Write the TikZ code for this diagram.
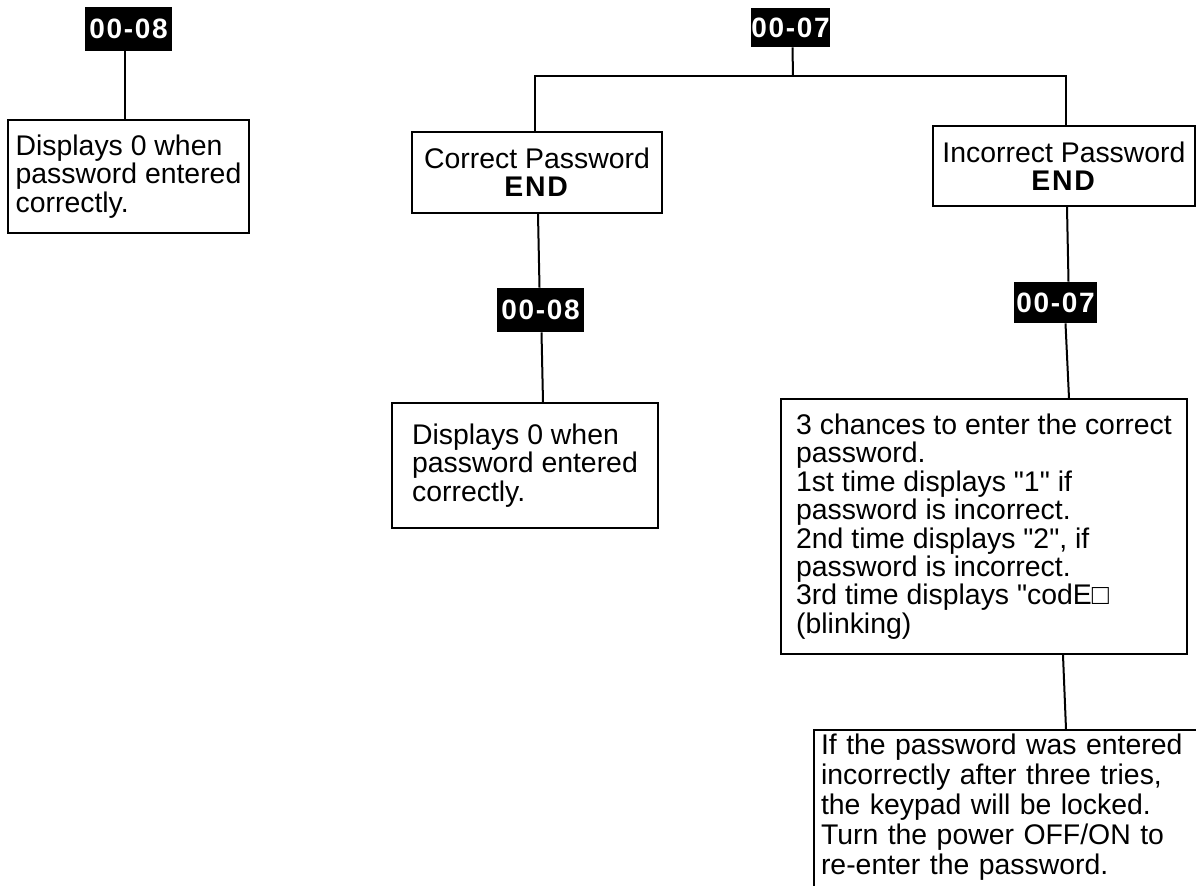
\documentclass[tikz,border=0pt]{standalone}
\usepackage{fontspec}
\setmainfont{Liberation Sans}
\usepackage{tikz}
\usetikzlibrary{positioning}
\newcommand{\notefont}{\fontsize{14.2}{14.2}\selectfont}
\newcommand{\q}{\textquotedbl}
\newcommand{\spaced}[1]{{\addfontfeatures{LetterSpace=6}#1}}
\tikzset{
  param/.style  = {fill=black,text=white,inner sep=0pt,
                   font=\bfseries\fontsize{14}{14}\selectfont,
                   minimum width=43.5pt,minimum height=22pt},
  note/.style   = {draw,line width=1pt,align=left,inner sep=0pt,font=\notefont},
  result/.style = {draw,line width=1pt,align=center,inner sep=0pt,font=\notefont},
  link/.style   = {line width=1pt},
}

\begin{document}
\begin{tikzpicture}[x=0.5pt,y=-0.5pt]
  \clip (0,0) rectangle (1196,886);
  % left column
  \node[param] (k1) at (128.5,29) {\spaced{00-08}};
  \node[note,minimum width=120.5pt,minimum height=56.5pt] (d1) at (128.5,176.5)
    {Displays 0 when\\password entered\\correctly.};
  \draw[link] ([xshift=-2pt]k1.south) -- ([xshift=-2pt]d1.north);
  % right part
  \node[param,minimum width=38.5pt,minimum height=19.5pt] (k2) at (790.5,27.5) {\spaced{00-07}};
  \coordinate (bar) at (793,76);
  \node[result,minimum width=125pt,minimum height=40.5pt] (cbox) at (537,172.5)
    {Correct Password\\\textbf{\spaced{END}}};
  \node[result,minimum width=131pt,minimum height=40pt] (ibox) at (1064,166)
    {Incorrect Password\\\textbf{\spaced{END}}};
  \draw[link] ([xshift=1pt]k2.south) -- (bar);
  \draw[link] ([xshift=-1pt]cbox.north) |- (bar) -| ([xshift=1pt]ibox.north);
  % correct branch
  \node[param] (k3) at (540.5,310) {\spaced{00-08}};
  \node[note,minimum width=133pt,minimum height=62.5pt] (d2) at (525,465.5)
    {Displays 0 when\\password entered\\correctly.};
  \draw[link] ([xshift=0.5pt]cbox.south) -- ([xshift=-0.5pt]k3.north);
  \draw[link] ([xshift=0.5pt]k3.south) -- ([xshift=9pt]d2.north);
  % incorrect branch
  \node[param,minimum width=41.5pt,minimum height=20.5pt] (k4) at (1055.5,302.5) {\spaced{00-07}};
  \node[note,minimum width=203pt,minimum height=127.5pt] (tries) at (984,526.5)
    {3 chances to enter the correct\\password.\\1st time displays \q1\q{} if\\
     password is incorrect.\\2nd time displays \q2\q, if\\password is incorrect.\\
     3rd time displays \q{}codE□\\(blinking)};
  \node[draw,line width=1pt,anchor=north west,inner xsep=3.5pt,inner ysep=2pt,
        text width=200pt,text depth=85pt,font=\fontsize{14.2}{15}\selectfont]
    (lock) at (813,729)
    {If the password was entered\\incorrectly after three tries,\\
     the keypad will be locked.\\Turn the power OFF/ON to\\re-enter the password.};
  \draw[link] ([xshift=1.5pt]ibox.south) -- ([xshift=6.5pt]k4.north);
  \draw[link] ([xshift=5pt]k4.south) -- ([xshift=42.5pt]tries.north);
  \draw[link] ([xshift=39.5pt]tries.south) -- (lock.north -| 1066,0);
\end{tikzpicture}
\end{document}
